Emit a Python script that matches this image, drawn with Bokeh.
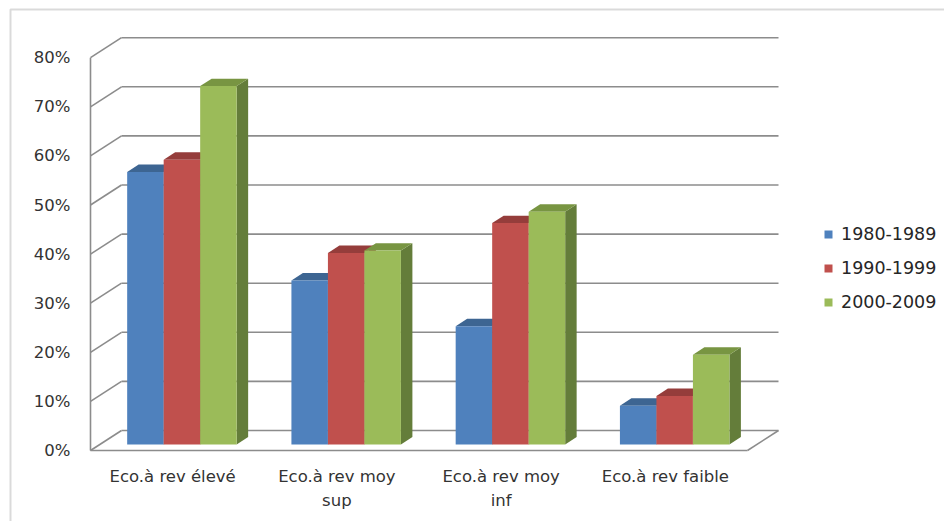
from bokeh.plotting import figure
from bokeh.models import Range1d, Legend, LegendItem, BoxAnnotation
from bokeh.core.properties import value
from bokeh.embed import file_html
from bokeh.resources import INLINE

# ---- data -------------------------------------------------------------
categories = ["Eco.à rev élevé", "Eco.à rev moy\nsup", "Eco.à rev moy\ninf", "Eco.à rev faible"]
series_names = ["1980-1989", "1990-1999", "2000-2009"]
s1980 = [0.555, 0.334, 0.241, 0.079]
s1990 = [0.580, 0.390, 0.451, 0.099]
s2000 = [0.730, 0.395, 0.474, 0.183]
tick_values = [0.0, 0.1, 0.2, 0.3, 0.4, 0.5, 0.6, 0.7, 0.8]
tick_labels = ["0%", "10%", "20%", "30%", "40%", "50%", "60%", "70%", "80%"]

series = [s1980, s1990, s2000]
front_colors = ["#4F81BD", "#C0504D", "#9BBB59"]
top_colors = ["#3D6592", "#953D3B", "#789542"]
side_colors = ["#3A5F8A", "#8C3936", "#647D3A"]

# ---- canvas / scales ----------------------------------------------------
W, H = 944, 521
SLOT_PX = 164.25      # pixels per category slot
LEFT_PX = 90          # front-left corner of the floor
ZERO_PX = 450         # front 0% line (from top)
UNIT_PX = 491         # pixels for 100%

x_start = -LEFT_PX / SLOT_PX
x_end = (W - LEFT_PX) / SLOT_PX
y_start = -(H - ZERO_PX) / UNIT_PX
y_end = ZERO_PX / UNIT_PX

# depth direction of the pseudo-3D box (full depth), in data units
DX = 31 / SLOT_PX
DY = 20 / UNIT_PX
Z0, Z1 = 0.30, 0.67   # bar front / back depth
BAR_W = 2 / 9
GAP = 1 / 6

p = figure(width=W, height=H, x_range=Range1d(x_start, x_end), y_range=Range1d(y_start, y_end),
           x_axis_type=None, y_axis_type=None, toolbar_location=None, output_backend="svg",
           min_border=0, outline_line_color=None, background_fill_color="white",
           border_fill_color="white")


def proj(x, y, z):
    return x + z * DX, y + z * DY


n_cat = len(categories)
grid_color = "#8C8C8C"

# chart-area border
p.add_layout(BoxAnnotation(left=x_start + 10 / SLOT_PX, right=x_end + 1,
                           top=y_end - 9 / UNIT_PX, bottom=y_start - 1,
                           fill_alpha=0, line_color="#868686", line_width=2))

# back-wall gridlines and side-wall diagonals
gx, gy = [], []
for t in tick_values:
    bx0, by0 = proj(0, t, 1)
    bx1, by1 = proj(n_cat, t, 1)
    gx.append([bx0, bx1]); gy.append([by0, by1])
    fx, fy = proj(0, t, 0)
    gx.append([fx, bx0]); gy.append([fy, by0])
# front vertical edge, front floor edge, right floor edge
gx.append([0, 0]); gy.append([0, tick_values[-1]])
gx.append([0, n_cat]); gy.append([0, 0])
rx, ry = proj(n_cat, 0, 1)
gx.append([n_cat, rx]); gy.append([0, ry])
p.multi_line(gx, gy, line_color=grid_color, line_width=1.6)

# bars
legend_items = []
for j, vals in enumerate(series):
    fxs, fys, txs, tys, sxs, sys_ = [], [], [], [], [], []
    for i, v in enumerate(vals):
        x0 = i + GAP + j * BAR_W
        x1 = x0 + BAR_W
        a = proj(x0, 0, Z0); b = proj(x1, 0, Z0); c = proj(x1, v, Z0); d = proj(x0, v, Z0)
        fxs.append([a[0], b[0], c[0], d[0]]); fys.append([a[1], b[1], c[1], d[1]])
        e = proj(x1, v, Z1); f = proj(x0, v, Z1)
        txs.append([d[0], c[0], e[0], f[0]]); tys.append([d[1], c[1], e[1], f[1]])
        g = proj(x1, 0, Z1)
        sxs.append([b[0], g[0], e[0], c[0]]); sys_.append([b[1], g[1], e[1], c[1]])
    p.patches(sxs, sys_, fill_color=side_colors[j], line_color=None)
    p.patches(txs, tys, fill_color=top_colors[j], line_color=None)
    r = p.patches(fxs, fys, fill_color=front_colors[j], line_color=None)
    legend_items.append(LegendItem(label=series_names[j], renderers=[r]))

# value axis labels
p.text(x=[-20 / SLOT_PX] * len(tick_values), y=tick_values, text=tick_labels,
       text_align="right", text_baseline="middle", text_font=value("DejaVu Sans"),
       text_font_size="16.5px", text_color="#333333")

# category labels
p.text(x=[i + 0.5 for i in range(n_cat)], y=[-16 / UNIT_PX] * n_cat, text=categories,
       text_align="center", text_baseline="top", text_font=value("DejaVu Sans"),
       text_font_size="16.5px", text_color="#333333", text_line_height=1.27)

legend = Legend(items=legend_items, location=(823, H - 312), orientation="vertical",
                glyph_width=10, glyph_height=10, label_standoff=8, spacing=14,
                padding=0, margin=0, border_line_color=None, background_fill_alpha=0,
                label_text_font="DejaVu Sans", label_text_font_size="17.5px",
                label_text_color="#262626")
p.add_layout(legend)

open("out.html", "w").write(file_html(p, INLINE))
